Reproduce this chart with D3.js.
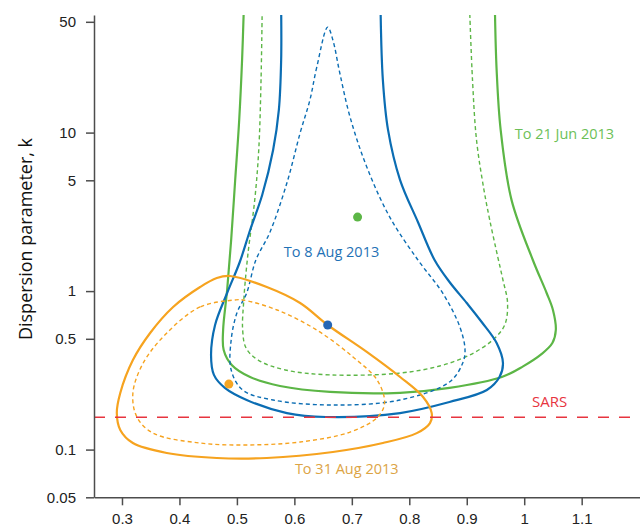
<!DOCTYPE html>
<html>
<head>
<meta charset="utf-8">
<title>Dispersion parameter k</title>
<script src="https://d3js.org/d3.v7.min.js"></script>
<style>
  body { margin: 0; background: #fff; }
  svg { font-family: 'Open Sans', sans-serif; }
  .axis path, .axis line { stroke: #4d4d4d; stroke-width: 1.5px; }
  .axis text { font-size: 15px; fill: #222; }
</style>
</head>
<body>
<div id="chart"></div>
<script>
// contour curves, [R0, k]
var jun21Outer = [[0.512,60],[0.509,28.7],[0.504,12.0],[0.497,5.02],[0.490,2.10],[0.483,1.016],[0.476,0.568],[0.477,0.425],[0.491,0.342],[0.523,0.287],[0.575,0.252],[0.662,0.231],[0.784,0.228],[0.870,0.245],[0.961,0.287],[0.998,0.335],[1.030,0.400],[1.049,0.470],[1.055,0.568],[1.050,0.760],[1.039,0.973],[1.015,1.571],[0.978,3.75],[0.959,10.4],[0.952,24.8],[0.949,60]];
var jun21Inner = [[0.544,60],[0.542,21.5],[0.538,7.77],[0.531,3.75],[0.519,1.689],[0.512,0.879],[0.510,0.568],[0.516,0.437],[0.537,0.367],[0.584,0.318],[0.662,0.296],[0.784,0.304],[0.853,0.337],[0.905,0.395],[0.945,0.491],[0.966,0.611],[0.971,0.841],[0.963,1.175],[0.954,1.64],[0.940,2.81],[0.930,4.34],[0.917,8.98],[0.910,21.5],[0.905,60]];
var aug8Outer = [[0.577,60],[0.577,28.7],[0.573,13.9],[0.563,7.77],[0.544,4.04],[0.523,2.43],[0.505,1.526],[0.483,0.973],[0.462,0.611],[0.455,0.395],[0.460,0.296],[0.479,0.245],[0.517,0.2055],[0.587,0.170],[0.655,0.1605],[0.784,0.170],[0.870,0.1996],[0.935,0.2377],[0.957,0.287],[0.963,0.352],[0.952,0.470],[0.926,0.638],[0.900,0.841],[0.870,1.141],[0.844,1.571],[0.815,2.73],[0.784,5.02],[0.763,10.4],[0.754,21.5],[0.750,60]];
var aug8Inner = [[0.658,46.3],[0.639,25.9],[0.627,16.05],[0.610,9.94],[0.587,4.81],[0.557,2.33],[0.533,1.571],[0.517,0.973],[0.500,0.727],[0.490,0.491],[0.490,0.318],[0.510,0.2377],[0.563,0.2055],[0.667,0.191],[0.784,0.2055],[0.870,0.267],[0.893,0.352],[0.897,0.425],[0.888,0.594],[0.858,0.973],[0.815,1.571],[0.766,2.93],[0.726,6.07],[0.697,12.5],[0.679,23.8],[0.667,38.4]];
var aug31Outer = [[0.488,1.245],[0.552,1.061],[0.610,0.841],[0.658,0.611],[0.726,0.413],[0.784,0.287],[0.824,0.2147],[0.839,0.170],[0.836,0.147],[0.813,0.127],[0.754,0.110],[0.667,0.0966],[0.552,0.0885],[0.465,0.0885],[0.378,0.0952],[0.319,0.110],[0.297,0.133],[0.291,0.170],[0.297,0.2275],[0.319,0.367],[0.349,0.544],[0.389,0.794],[0.436,1.061],[0.465,1.209]];
var aug31Inner = [[0.497,0.879],[0.436,0.794],[0.378,0.544],[0.337,0.352],[0.319,0.2275],[0.326,0.1605],[0.354,0.127],[0.436,0.110],[0.523,0.107],[0.610,0.1117],[0.697,0.129],[0.745,0.1605],[0.757,0.197],[0.744,0.275],[0.702,0.384],[0.639,0.568],[0.570,0.760],[0.510,0.879]];

// point estimates
var estNames = ["jun21", "aug8", "aug31"];
var estR = [0.710, 0.658, 0.486];
var estK = [2.93, 0.611, 0.259];

var sarsK = 0.16;

var xTicks = [0.3, 0.4, 0.5, 0.6, 0.7, 0.8, 0.9, 1, 1.1];
var yTicks = [0.05, 0.1, 0.5, 1, 5, 10, 50];

var colors = { jun21: "#5cb646", aug8: "#0b6db3", aug31: "#f6a31f", sars: "#e7343f" };
var dotColors = { jun21: "#5cb646", aug8: "#2566b5", aug31: "#f6a623" };

var svgW = 640, svgH = 528;
var plotL = 94, plotR = 640, plotT = 15, plotB = 497.3;

var svg = d3.select("#chart").append("svg")
    .attr("width", svgW)
    .attr("height", svgH);

var x = d3.scaleLinear().domain([0.2513, 1.2015]).range([plotL, plotR]);
var y = d3.scaleLog().domain([0.05, 55.2]).range([plotB, plotT]);

svg.append("defs").append("clipPath").attr("id", "plot")
  .append("rect")
    .attr("x", plotL).attr("y", plotT)
    .attr("width", plotR - plotL).attr("height", plotB - plotT);

var lineOpen = d3.line().x(d => x(d[0])).y(d => y(d[1])).curve(d3.curveCatmullRom.alpha(0.5));
var lineClosed = d3.line().x(d => x(d[0])).y(d => y(d[1])).curve(d3.curveCatmullRomClosed.alpha(0.5));

var g = svg.append("g").attr("clip-path", "url(#plot)");

function curve(data, gen, color, dashed) {
  g.append("path")
    .attr("d", gen(data))
    .attr("fill", "none")
    .attr("stroke", color)
    .attr("stroke-width", dashed ? 1.4 : 2.2)
    .attr("stroke-dasharray", dashed ? "4,3" : null);
}

curve(jun21Inner, lineOpen, colors.jun21, true);
curve(jun21Outer, lineOpen, colors.jun21, false);
curve(aug8Inner, lineClosed, colors.aug8, true);
curve(aug8Outer, lineOpen, colors.aug8, false);
curve(aug31Inner, lineClosed, colors.aug31, true);
curve(aug31Outer, lineClosed, colors.aug31, false);

g.append("line")
  .attr("x1", plotL).attr("x2", plotR)
  .attr("y1", y(sarsK)).attr("y2", y(sarsK))
  .attr("stroke", colors.sars)
  .attr("stroke-width", 1.6)
  .attr("stroke-dasharray", "11,10");

g.selectAll("circle")
  .data(estNames)
  .enter().append("circle")
    .attr("cx", (d, i) => x(estR[i]))
    .attr("cy", (d, i) => y(estK[i]))
    .attr("r", 4.5)
    .attr("fill", d => dotColors[d]);

// axes
svg.append("g")
    .attr("class", "axis")
    .attr("transform", "translate(0," + plotB + ")")
    .call(d3.axisBottom(x).tickValues(xTicks).tickFormat(d3.format("")).tickSize(8).tickSizeOuter(0).tickPadding(8));

svg.append("g")
    .attr("class", "axis")
    .attr("transform", "translate(" + plotL + ",0)")
    .call(d3.axisLeft(y).tickValues(yTicks).tickFormat(d3.format("")).tickSize(8).tickSizeOuter(0).tickPadding(10));

svg.selectAll(".axis .domain").attr("stroke-width", 1.8);

svg.append("text")
    .attr("transform", "translate(32,239) rotate(-90)")
    .attr("text-anchor", "middle")
    .attr("font-size", 18)
    .attr("fill", "#111")
    .text("Dispersion parameter, k");

// labels
svg.append("text").attr("x", x(0.9835)).attr("y", y(9.11))
    .attr("font-size", 14.5).attr("fill", "#6cbf57").text("To 21 Jun 2013");
svg.append("text").attr("x", x(0.5817)).attr("y", y(1.64))
    .attr("font-size", 14.5).attr("fill", "#1f72b6").text("To 8 Aug 2013");
svg.append("text").attr("x", x(0.6009)).attr("y", y(0.0701))
    .attr("font-size", 14.5).attr("fill", "#dca445").text("To 31 Aug 2013");
svg.append("text").attr("x", x(1.0443)).attr("y", y(0.186))
    .attr("text-anchor", "middle")
    .attr("font-size", 15).attr("fill", colors.sars).text("SARS");
</script>
</body>
</html>
